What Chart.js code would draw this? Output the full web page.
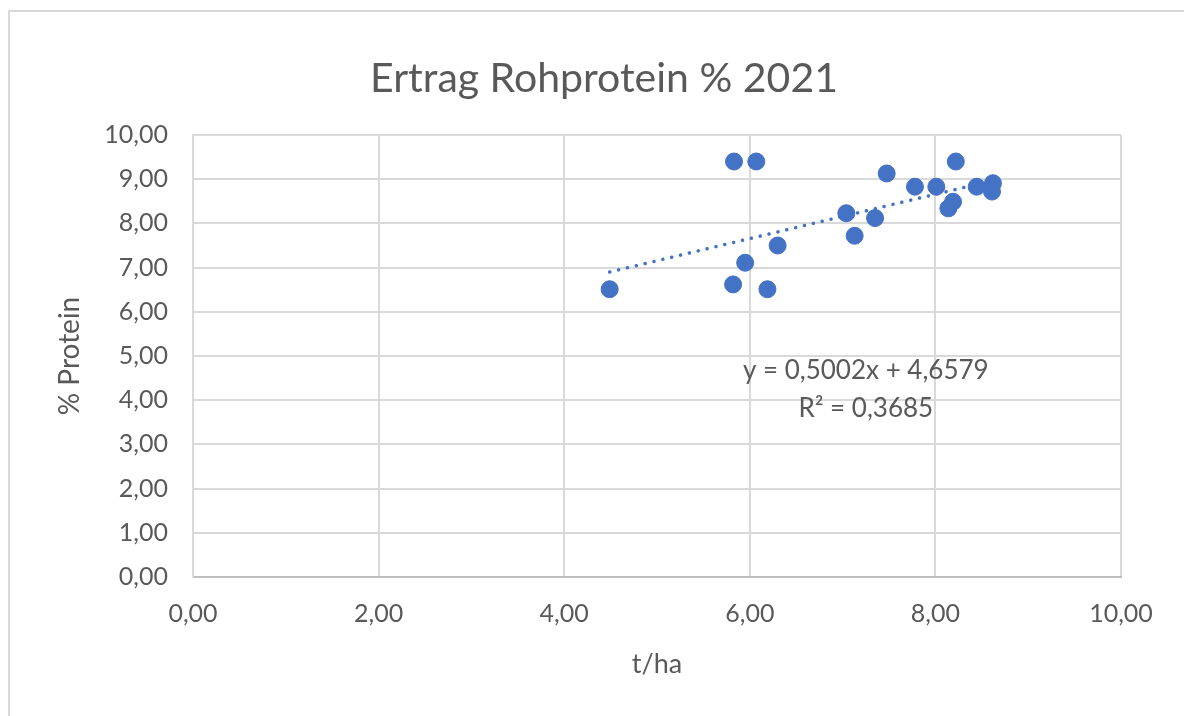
<!DOCTYPE html>
<html>
<head>
<meta charset="utf-8">
<script src="https://cdn.jsdelivr.net/npm/chart.js@4"></script>
<style>
html,body{margin:0;padding:0;background:#fff;}
#wrap{width:1184px;height:716px;position:relative;}
</style>
</head>
<body>
<div id="wrap"><canvas id="c" width="1184" height="716"></canvas></div>
<script>
const titleText = 'Ertrag Rohprotein % 2021';
const xAxisTitle = 't/ha';
const yAxisTitle = '% Protein';
const ertrag = [4.49, 5.83, 6.07, 5.82, 5.95, 6.19, 6.30, 7.04, 7.13, 7.35, 7.475, 7.78, 8.01, 8.22, 8.14, 8.19, 8.445, 8.62, 8.61];
const protein = [6.51, 9.40, 9.40, 6.62, 7.11, 6.51, 7.50, 8.23, 7.72, 8.12, 9.13, 8.83, 8.83, 9.40, 8.34, 8.49, 8.83, 8.91, 8.72];
const trendX = [4.49, 8.62];
const trendY = [6.90, 8.97];
const eqLines = ['y = 0,5002x + 4,6579', 'R² = 0,3685'];
const eqPosX = 7.25;
const eqPosY = [4.68, 3.82];
const xTicks = [0, 2, 4, 6, 8, 10];
const yTicks = [0, 1, 2, 3, 4, 5, 6, 7, 8, 9, 10];

const FONT = 'Lato, "Open Sans", sans-serif';
const GREY = '#595959';
const fmt = v => v.toFixed(2).replace('.', ',');

const points = ertrag.map((x, i) => ({x, y: protein[i]}));
const trend = trendX.map((x, i) => ({x, y: trendY[i]}));

const framePlugin = {
  id: 'frame',
  beforeDraw(chart) {
    const ctx = chart.ctx;
    ctx.save();
    ctx.fillStyle = '#fff';
    ctx.fillRect(0, 0, chart.width, chart.height);
    ctx.strokeStyle = '#d9d9d9';
    ctx.lineWidth = 2;
    ctx.strokeRect(9, 11, 1300, 800);
    ctx.fillStyle = GREY;
    ctx.font = '41px ' + FONT;
    ctx.textAlign = 'center';
    ctx.textBaseline = 'alphabetic';
    ctx.fillText(titleText, 604, 92);
    ctx.restore();
  },
  afterDatasetsDraw(chart) {
    const ctx = chart.ctx;
    const xs = chart.scales.x, ys = chart.scales.y;
    ctx.save();
    ctx.fillStyle = GREY;
    ctx.font = '26px ' + FONT;
    ctx.textAlign = 'center';
    ctx.textBaseline = 'middle';
    eqLines.forEach((t, i) => {
      ctx.fillText(t, xs.getPixelForValue(eqPosX), ys.getPixelForValue(eqPosY[i]));
    });
    ctx.restore();
  }
};

new Chart(document.getElementById('c'), {
  type: 'scatter',
  data: {
    datasets: [
      {
        label: 'Trend',
        type: 'line',
        data: trend,
        borderColor: '#4472C4',
        borderWidth: 3.5,
        borderDash: [0.1, 9],
        borderCapStyle: 'round',
        pointRadius: 0,
        fill: false,
        order: 2
      },
      {
        label: 'Daten',
        data: points,
        backgroundColor: '#4472C4',
        borderColor: '#4472C4',
        pointRadius: 8.5,
        pointHoverRadius: 8.5,
        order: 1
      }
    ]
  },
  options: {
    responsive: false,
    animation: false,
    devicePixelRatio: 1,
    layout: {padding: {left: 0, right: 63, top: 135, bottom: 0}},
    plugins: {
      legend: {display: false},
      tooltip: {enabled: false},
      title: {display: false}
    },
    scales: {
      x: {
        type: 'linear',
        min: 0, max: 10,
        afterBuildTicks: s => { s.ticks = xTicks.map(v => ({value: v})); },
        afterFit: s => { s.height = 139; },
        ticks: {
          color: GREY,
          font: {family: FONT, size: 25},
          padding: 22,
          maxRotation: 0,
          callback: v => fmt(v)
        },
        grid: {color: '#d9d9d9', lineWidth: 2, drawTicks: false},
        border: {color: '#bfbfbf', width: 2},
        title: {
          display: true,
          text: xAxisTitle,
          color: GREY,
          font: {family: FONT, size: 27, lineHeight: 1.2},
          padding: {top: 0, bottom: 36}
        }
      },
      y: {
        type: 'linear',
        min: 0, max: 10,
        afterBuildTicks: s => { s.ticks = yTicks.map(v => ({value: v})); },
        afterFit: s => { s.width = 193; },
        ticks: {
          color: GREY,
          font: {family: FONT, size: 25},
          padding: 25,
          callback: v => fmt(v)
        },
        grid: {color: '#d9d9d9', lineWidth: 2, drawTicks: false},
        border: {color: '#d9d9d9', width: 2},
        title: {
          display: true,
          text: yAxisTitle,
          color: GREY,
          font: {family: FONT, size: 28, lineHeight: 1.2},
          padding: {top: 53, bottom: 0}
        }
      }
    }
  },
  plugins: [framePlugin]
});
</script>
</body>
</html>
